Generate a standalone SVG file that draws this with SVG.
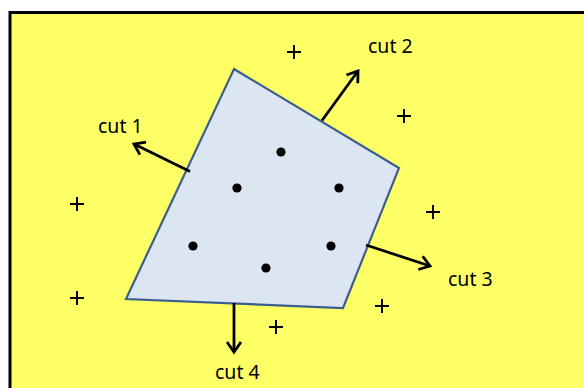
<svg xmlns="http://www.w3.org/2000/svg" width="584" height="388" viewBox="0 0 584 388">
<defs>
<marker id="arr" markerUnits="userSpaceOnUse" markerWidth="20" markerHeight="20" refX="12" refY="8" orient="auto" viewBox="0 0 20 16">
<path d="M2,1 L12,8 L2,15" fill="none" stroke="#000" stroke-width="2.8" stroke-linejoin="miter"/>
</marker>
<style>
.lbl{font-family:"Noto Sans","Liberation Sans",sans-serif;font-size:19.5px;fill:#000}
.cut{stroke:#000;stroke-width:2.8;fill:none;marker-end:url(#arr)}
.plus{stroke:#000;stroke-width:2;fill:none}
.dot{fill:#000}
</style>
</defs>
<rect x="0" y="0" width="584" height="388" fill="#fff"/>
<rect x="10" y="12.5" width="590" height="390" fill="#ffff66" stroke="#000" stroke-width="3"/>
<g id="region">
<polygon points="234,69 399,168 343,308 126,299" fill="#dce6f2" stroke="#3a5f8f" stroke-width="2.2" stroke-linejoin="miter"/>
</g>
<g id="points">
<circle class="dot" cx="281" cy="152" r="4.6"/>
<circle class="dot" cx="237" cy="188" r="4.6"/>
<circle class="dot" cx="339" cy="188" r="4.6"/>
<circle class="dot" cx="193" cy="246" r="4.6"/>
<circle class="dot" cx="331" cy="246" r="4.6"/>
<circle class="dot" cx="266" cy="268" r="4.6"/>
</g>
<g id="plus-signs">
<path class="plus" d="M287,52h14M294,45v14"/>
<path class="plus" d="M397,116h14M404,109v14"/>
<path class="plus" d="M70,204h14M77,197v14"/>
<path class="plus" d="M70,298h14M77,291v14"/>
<path class="plus" d="M269,327h14M276,320v14"/>
<path class="plus" d="M375,306h14M382,299v14"/>
<path class="plus" d="M426,212h14M433,205v14"/>
</g>
<g id="connectors">
<line class="cut" x1="190" y1="171.5" x2="134" y2="144"/>
<line class="cut" x1="322" y1="120.5" x2="358" y2="71"/>
<line class="cut" x1="366" y1="245" x2="430" y2="266"/>
<line class="cut" x1="234" y1="303" x2="234" y2="352"/>
</g>
<g id="labels">
<text class="lbl" x="98" y="133">cut 1</text>
<text class="lbl" x="368" y="53">cut 2</text>
<text class="lbl" x="448" y="286">cut 3</text>
<text class="lbl" x="215" y="379">cut 4</text>
</g>
</svg>
